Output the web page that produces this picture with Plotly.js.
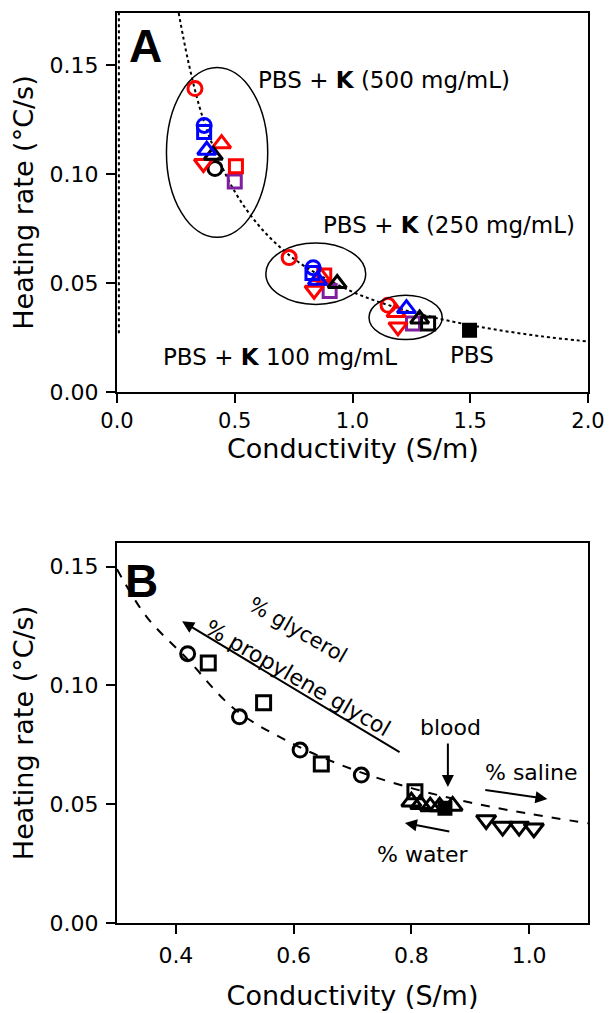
<!DOCTYPE html>
<html>
<head>
<meta charset="utf-8">
<script src="https://cdn.plot.ly/plotly-3.0.1.min.js"></script>
<style>html,body{margin:0;padding:0;background:#fff;}#chart{width:610px;height:1013px;}</style>
</head>
<body>
<div id="chart"></div>
<script>
// ---------- Panel A data (conductivity S/m, heating rate °C/s) ----------
const redCircleX   = [0.331, 0.731, 1.151];
const redCircleY   = [0.1393, 0.0617, 0.0398];
const blueCircleX  = [0.370, 0.833];
const blueCircleY  = [0.1224, 0.0571];
const blueSquareX  = [0.370, 0.830];
const blueSquareY  = [0.1194, 0.0546];
const redTriUpX    = [0.444, 0.865, 1.185];
const redTriUpY    = [0.1140, 0.0530, 0.0365];
const redTriDownX  = [0.367, 0.837, 1.193];
const redTriDownY  = [0.1049, 0.0467, 0.0299];
const blueTriUpX   = [0.381, 0.851, 1.229];
const blueTriUpY   = [0.1110, 0.0513, 0.0383];
const blackTriUpX  = [0.409, 0.935, 1.285];
const blackTriUpY  = [0.1087, 0.0498, 0.0335];
const blackCircleX = [0.416];
const blackCircleY = [0.1026];
const redSquareX   = [0.505, 0.880];
const redSquareY   = [0.1036, 0.0535];
const purpleSquareX= [0.500, 0.903, 1.257];
const purpleSquareY= [0.0967, 0.0464, 0.0314];
const blackSquareX = [1.321];
const blackSquareY = [0.0314];
const pbsX = [1.497];
const pbsY = [0.0283];
// fitted curve in A
const fitAX = [0.262, 0.30, 0.35, 0.40, 0.50, 0.60, 0.70, 0.80, 1.00, 1.20, 1.40, 1.60, 1.80, 2.00];
const fitAY = [0.174, 0.153, 0.131, 0.115, 0.092, 0.0767, 0.0657, 0.0575, 0.046, 0.0383, 0.0329, 0.0288, 0.0256, 0.0232];
const fitPoleX = [0.008, 0.008];
const fitPoleY = [0.027, 0.174];

// ---------- Panel B data ----------
const circlesBX = [0.420, 0.508, 0.611, 0.715];
const circlesBY = [0.1134, 0.0868, 0.0728, 0.0623];
const squaresBX = [0.455, 0.549, 0.647, 0.806];
const squaresBY = [0.1095, 0.0927, 0.0669, 0.0553];
const triUpBX   = [0.800, 0.815, 0.832, 0.848, 0.870];
const triUpBY   = [0.0511, 0.0500, 0.0490, 0.0490, 0.0493];
const bloodX    = [0.857];
const bloodY    = [0.0483];
const triDownBX = [0.927, 0.955, 0.983, 1.008];
const triDownBY = [0.0434, 0.0406, 0.0406, 0.0399];
const fitBX = [0.30, 0.35, 0.42, 0.50, 0.60, 0.70, 0.80, 0.90, 1.00, 1.10];
const fitBY = [0.149, 0.129, 0.111, 0.090, 0.0753, 0.0647, 0.0568, 0.0507, 0.046, 0.042];

const RED = '#ff0000', BLUE = '#0000ff', BLACK = '#000000', PURPLE = '#7f1f9f';
const FONT = 'DejaVu Sans, Liberation Sans, Arial, sans-serif';

function mk(x, y, sym, color, size, xa, ya, fill) {
  return {x: x, y: y, type: 'scatter', mode: 'markers', xaxis: xa, yaxis: ya,
    hoverinfo: 'skip', showlegend: false,
    marker: {symbol: fill ? sym : sym + '-open', color: color, size: size,
      line: {color: color, width: 3}}};
}

const traces = [
  {x: fitAX, y: fitAY, type: 'scatter', mode: 'lines', line: {color: BLACK, width: 2, dash: 'dot', shape: 'spline'}, xaxis: 'x', yaxis: 'y', showlegend: false},
  {x: fitPoleX, y: fitPoleY, type: 'scatter', mode: 'lines', line: {color: BLACK, width: 2, dash: 'dot'}, xaxis: 'x', yaxis: 'y', showlegend: false},
  mk(purpleSquareX, purpleSquareY, 'square', PURPLE, 13, 'x', 'y'),
  mk(blackSquareX, blackSquareY, 'square', BLACK, 13, 'x', 'y'),
  mk(redSquareX, redSquareY, 'square', RED, 13, 'x', 'y'),
  mk(blackCircleX, blackCircleY, 'circle', BLACK, 14, 'x', 'y'),
  mk(redTriDownX, redTriDownY, 'triangle-down', RED, 16, 'x', 'y'),
  mk(redTriUpX, redTriUpY, 'triangle-up', RED, 16, 'x', 'y'),
  mk(blackTriUpX, blackTriUpY, 'triangle-up', BLACK, 16, 'x', 'y'),
  mk(blueSquareX, blueSquareY, 'square', BLUE, 13, 'x', 'y'),
  mk(blueCircleX, blueCircleY, 'circle', BLUE, 14, 'x', 'y'),
  mk(blueTriUpX, blueTriUpY, 'triangle-up', BLUE, 16, 'x', 'y'),
  mk(redCircleX, redCircleY, 'circle', RED, 14, 'x', 'y'),
  mk(pbsX, pbsY, 'square', BLACK, 12, 'x', 'y', true),

  {x: fitBX, y: fitBY, type: 'scatter', mode: 'lines', line: {color: BLACK, width: 2, dash: 'dash', shape: 'spline'}, xaxis: 'x2', yaxis: 'y2', showlegend: false},
  mk(circlesBX, circlesBY, 'circle', BLACK, 14, 'x2', 'y2'),
  mk(squaresBX, squaresBY, 'square', BLACK, 14, 'x2', 'y2'),
  mk(triUpBX, triUpBY, 'triangle-up', BLACK, 17, 'x2', 'y2'),
  mk(triDownBX, triDownBY, 'triangle-down', BLACK, 17, 'x2', 'y2'),
  mk(bloodX, bloodY, 'square', BLACK, 12, 'x2', 'y2', true)
];

const axisCommon = {
  showline: true, linecolor: BLACK, linewidth: 2, mirror: true,
  ticks: 'outside', ticklen: 9, tickwidth: 2, tickcolor: BLACK,
  showgrid: false, zeroline: false,
  tickfont: {family: FONT, size: 22, color: BLACK}
};
const TITLEFONT = {family: FONT, size: 27, color: BLACK};

const layout = {
  width: 610, height: 1013,
  margin: {l: 117, r: 22, t: 13, b: 90},
  paper_bgcolor: '#ffffff', plot_bgcolor: '#ffffff',
  showlegend: false,
  xaxis: Object.assign({}, axisCommon, {domain: [0, 1], anchor: 'y', range: [0, 2.0],
    tickvals: [0, 0.5, 1.0, 1.5, 2.0], ticktext: ['0.0', '0.5', '1.0', '1.5', '2.0'], ticklabelstandoff: 0,
    tickfont: {family: FONT, size: 21, color: BLACK}}),
  yaxis: Object.assign({}, axisCommon, {domain: [0.5835, 1], anchor: 'x', range: [0, 0.174],
    tickvals: [0, 0.05, 0.10, 0.15], ticktext: ['0.00', '0.05', '0.10', '0.15'], ticklabelstandoff: 3,
    title: {text: 'Heating rate (°C/s)', font: TITLEFONT, standoff: 8}}),
  xaxis2: Object.assign({}, axisCommon, {domain: [0, 1], anchor: 'y2', range: [0.3, 1.1],
    tickvals: [0.4, 0.6, 0.8, 1.0], ticktext: ['0.4', '0.6', '0.8', '1.0'], ticklabelstandoff: 3,
    title: {text: 'Conductivity (S/m)', font: TITLEFONT, standoff: 19}}),
  yaxis2: Object.assign({}, axisCommon, {domain: [0, 0.4176], anchor: 'x2', range: [0, 0.16],
    tickvals: [0, 0.05, 0.10, 0.15], ticktext: ['0.00', '0.05', '0.10', '0.15'], ticklabelstandoff: 3,
    title: {text: 'Heating rate (°C/s)', font: TITLEFONT, standoff: 8}}),
  shapes: [
    {type: 'circle', xref: 'x', yref: 'y', x0: 0.21, x1: 0.64, y0: 0.071, y1: 0.149, line: {color: BLACK, width: 1.5}},
    {type: 'circle', xref: 'x', yref: 'y', x0: 0.632, x1: 1.056, y0: 0.0402, y1: 0.0684, line: {color: BLACK, width: 1.5}},
    {type: 'circle', xref: 'x', yref: 'y', x0: 1.070, x1: 1.381, y0: 0.0241, y1: 0.0444, line: {color: BLACK, width: 1.5}}
  ],
  annotations: [
    // panel A x-axis title
    {xref: 'x', yref: 'paper', x: 1.0, y: 0.5215, yanchor: 'middle', text: 'Conductivity (S/m)', showarrow: false, font: TITLEFONT},
    {xref: 'x', yref: 'y', x: 0.119, y: 0.159, text: '<b>A</b>', showarrow: false, font: {family: 'Liberation Sans, Arial, sans-serif', size: 46, color: BLACK}},
    {xref: 'x', yref: 'y', x: 1.134, y: 0.1431, text: 'PBS + <b>K</b> (500 mg/mL)', showarrow: false, font: {family: FONT, size: 23, color: BLACK}},
    {xref: 'x', yref: 'y', x: 1.408, y: 0.0765, text: 'PBS + <b>K</b> (250 mg/mL)', showarrow: false, font: {family: FONT, size: 23, color: BLACK}},
    {xref: 'x', yref: 'y', x: 0.691, y: 0.0159, text: 'PBS + <b>K</b> 100 mg/mL', showarrow: false, font: {family: FONT, size: 23, color: BLACK}},
    {xref: 'x', yref: 'y', x: 1.506, y: 0.0169, text: 'PBS', showarrow: false, font: {family: FONT, size: 23, color: BLACK}},

    {xref: 'x2', yref: 'y2', x: 0.341, y: 0.1442, text: '<b>B</b>', showarrow: false, font: {family: 'Liberation Sans, Arial, sans-serif', size: 46, color: BLACK}},
    {xref: 'x2', yref: 'y2', x: 0.607, y: 0.1232, text: '% glycerol', textangle: 30, showarrow: false, font: {family: FONT, size: 21, color: BLACK}},
    {xref: 'x2', yref: 'y2', x: 0.608, y: 0.1031, text: '% propylene glycol', textangle: 30, showarrow: false, font: {family: FONT, size: 22, color: BLACK}},
    {xref: 'x2', yref: 'y2', x: 0.4106, y: 0.1270, ax: 0.7825, ay: 0.0716, axref: 'x2', ayref: 'y2', text: '', showarrow: true, arrowhead: 2, arrowsize: 1.2, arrowwidth: 2, arrowcolor: BLACK},
    {xref: 'x2', yref: 'y2', x: 0.866, y: 0.0825, text: 'blood', showarrow: false, font: {family: FONT, size: 22, color: BLACK}},
    {xref: 'x2', yref: 'y2', x: 0.862, y: 0.0573, ax: 0.862, ay: 0.0762, axref: 'x2', ayref: 'y2', text: '', showarrow: true, arrowhead: 2, arrowsize: 1.2, arrowwidth: 2, arrowcolor: BLACK, standoff: 0},
    {xref: 'x2', yref: 'y2', x: 1.004, y: 0.0632, text: '% saline', showarrow: false, font: {family: FONT, size: 22, color: BLACK}},
    {xref: 'x2', yref: 'y2', x: 1.031, y: 0.0522, ax: 0.923, ay: 0.0561, axref: 'x2', ayref: 'y2', text: '', showarrow: true, arrowhead: 2, arrowsize: 1.2, arrowwidth: 2, arrowcolor: BLACK},
    {xref: 'x2', yref: 'y2', x: 0.789, y: 0.0421, ax: 0.867, ay: 0.0384, axref: 'x2', ayref: 'y2', text: '', showarrow: true, arrowhead: 2, arrowsize: 1.2, arrowwidth: 2, arrowcolor: BLACK},
    {xref: 'x2', yref: 'y2', x: 0.820, y: 0.0288, text: '% water', showarrow: false, font: {family: FONT, size: 22, color: BLACK}}
  ]
};

Plotly.newPlot('chart', traces, layout, {staticPlot: true, displayModeBar: false});
</script>
</body>
</html>
